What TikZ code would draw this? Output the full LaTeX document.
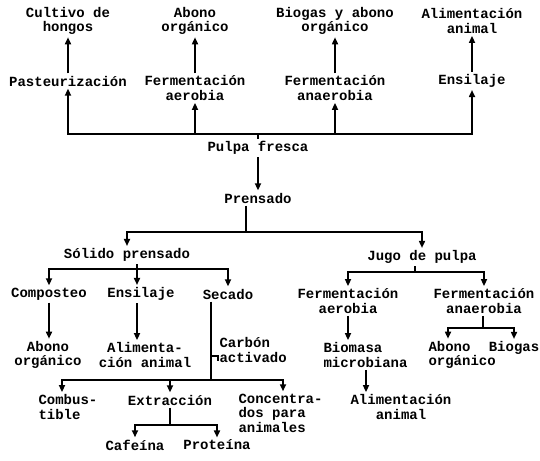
\documentclass[tikz,border=0pt]{standalone}
\usepackage{fontspec}
\setmainfont{Liberation Mono}
\usetikzlibrary{arrows.meta}
\begin{document}
\begin{tikzpicture}[x=1pt,y=-1pt]
        \tikzset{
        txt/.style={font=\fontsize{14}{14.5}\selectfont\bfseries, inner sep=0pt, outer sep=2.5pt, align=center},
        txtl/.style={txt, align=left, anchor=west},
        ln/.style={-, line width=1.6pt},
        arr/.style={-{Triangle[length=7pt,width=6pt]}, line width=1.6pt}
        }
        \useasboundingbox (0,0) rectangle (540,460);
        % top row
        \node[txt] (cult) at (68,21) {Cultivo de\\hongos};
        \node[txt] (abono1) at (195,21) {Abono\\orgánico};
        \node[txt] (biogas1) at (335,21) {Biogas y abono\\orgánico};
        \node[txt] (alim1) at (472,21) {Alimentación\\animal};
        \node[txt] (past) at (68,81) {Pasteurización};
        \node[txt] (ferma1) at (195,88) {Fermentación\\aerobia};
        \node[txt] (fermn1) at (335,88) {Fermentación\\anaerobia};
        \node[txt] (ensil1) at (472,81) {Ensilaje};
        \node[txt] (pulpa) at (258,148) {Pulpa fresca};
        \node[txt] (prens) at (258,198) {Prensado};
        % second level
        \node[txt] (solido) at (127,255) {Sólido prensado};
        \node[txt] (jugo) at (422,257) {Jugo de pulpa};
        \node[txt] (compost) at (49,294) {Composteo};
        \node[txt] (ensil2) at (141,294) {Ensilaje};
        \node[txt] (secado) at (228,294) {Secado};
        \node[txt] (ferma2) at (348,301) {Fermentación\\aerobia};
        \node[txt] (fermn2) at (484,301) {Fermentación\\anaerobia};
        \node[txt] (abono2) at (48,355) {Abono\\orgánico};
        \node[txt] (alim2) at (145,355) {Alimenta-\\ción animal};
        \node[txtl] (carbon) at (217,350) {Carbón\\activado};
        \node[txtl] (biomasa) at (321,355) {Biomasa\\microbiana};
        \node[txtl] (abono3) at (426,355) {Abono\\orgánico};
        \node[txt] (biogas2) at (514,348) {Biogas};
        % bottom
        \node[txtl] (comb) at (36,407) {Combus-\\tible};
        \node[txt] (extr) at (170,400) {Extracción};
        \node[txtl] (conc) at (236,413) {Concentra-\\dos para\\animales};
        \node[txt] (alim3) at (401,407) {Alimentación\\animal};
        \node[txt] (caf) at (135,445) {Cafeína};
        \node[txt] (prot) at (217,445) {Proteína};

        \coordinate (bar1) at (258,134);
        \coordinate (bar2) at (246,232);
        \coordinate (bar3) at (137,269);
        \coordinate (bar4) at (415,272);
        \coordinate (bar5) at (211,380);
        \coordinate (bar6) at (170,425);
        \coordinate (bar7) at (483,328);
        \coordinate (ctick) at (211,356);

        % upward branches
        \draw[ln] (pulpa) -- (bar1);
        \draw[arr] (bar1) -| (past);
        \draw[arr] (bar1) -| (ferma1);
        \draw[arr] (bar1) -| (fermn1);
        \draw[arr] (bar1) -| (ensil1);
        \draw[arr] (past) -- (cult);
        \draw[arr] (ferma1) -- (abono1);
        \draw[arr] (fermn1) -- (biogas1);
        \draw[arr] (ensil1) -- (alim1);

        % pressing
        \draw[arr] (pulpa) -- (prens);
        \draw[ln] (prens.south -| bar2) -- (bar2);
        \draw[arr] (bar2) -| (solido);
        \draw[arr] (bar2) -| (jugo);

        % solid part
        \draw[ln] (solido.south -| bar3) -- (bar3);
        \draw[arr] (bar3) -| (compost);
        \draw[arr] (bar3) -- (bar3 |- ensil2.north);
        \draw[arr] (bar3) -| (secado);
        \draw[arr] (compost) -- (compost |- abono2.north);
        \draw[arr] (ensil2.south -| bar3) -- (bar3 |- alim2.north);
        \draw[ln] (secado.south -| bar5) -- (bar5);
        \draw[ln] (ctick) -- ++(7,0) -- ++(0,5);
        \draw[arr] (bar5) -| (comb.north -| 62,0);
        \draw[arr] (bar5) -- (bar5 -| extr) -- (extr.north);
        \draw[arr] (bar5) -| (conc.north -| 283,0);
        \draw[ln] (extr) -- (bar6);
        \draw[arr] (bar6) -| (caf);
        \draw[arr] (bar6) -| (prot);

        % juice part
        \draw[ln] (jugo.south -| bar4) -- (bar4);
        \draw[arr] (bar4) -| (ferma2);
        \draw[arr] (bar4) -| (fermn2);
        \draw[arr] (ferma2) -- (ferma2 |- biomasa.north);
        \draw[arr] (biomasa.south -| 366,0) -- (alim3.north -| 366,0);
        \draw[ln] (fermn2.south -| bar7) -- (bar7);
        \draw[arr] (bar7) -| (abono3.north -| 448,0);
        \draw[arr] (bar7) -| (biogas2);
\end{tikzpicture}
\end{document}
